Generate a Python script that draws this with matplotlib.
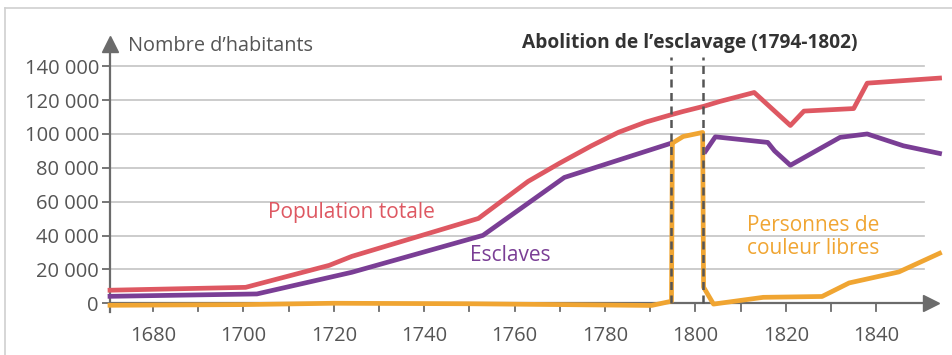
import numpy as np
import matplotlib
matplotlib.use("Agg")
import matplotlib.pyplot as plt
from matplotlib.lines import Line2D

# --- data -------------------------------------------------------------
years_total = [1670.5, 1700.5, 1719, 1724, 1741, 1752, 1763, 1770, 1777, 1783,
               1789, 1794.7, 1797.3, 1801.8, 1805.4, 1813, 1821, 1824, 1835,
               1838, 1854]
total = [7700, 9400, 22400, 27700, 41300, 50100, 72000, 82800, 93000, 101000,
         107000, 111400, 113300, 116300, 119200, 124500, 105000, 113500,
         115000, 130000, 133000]

years_slaves = [1670.5, 1703, 1724, 1753, 1771, 1794.7, 1798, 1802.2, 1804.4,
                1816, 1817.5, 1821, 1832, 1838, 1846, 1854]
slaves = [4100, 5500, 18300, 40100, 74300, 94600, np.nan, 89700, 98300,
          95000, 90000, 81500, 98000, 100000, 93000, 88500]

years_free = [1670.5, 1700, 1720, 1750, 1790.3, 1794.7, 1794.9, 1797.3,
              1801.6, 1801.8, 1804, 1815, 1828, 1834, 1845, 1854]
free = [-1200, -800, 0, -300, -1300, 1200, 94600, 98500,
        100900, 9500, -500, 3500, 4000, 12000, 18500, 29500]

abolition = [1794.7, 1801.7]

y_ticks = [0, 20000, 40000, 60000, 80000, 100000, 120000, 140000]
x_ticks = list(range(1680, 1841, 10))
x_labels = [str(y) if y % 20 == 0 else "" for y in x_ticks]

# --- style ------------------------------------------------------------
RED = "#de5862"
PURPLE = "#7a3e95"
ORANGE = "#f0a532"
GRID = "#c4c4c4"
AXIS = "#6b6b6b"
TEXT = "#555555"
DARK = "#333333"
FONT = "Open Sans"

plt.rcParams["font.family"] = [FONT, "DejaVu Sans"]

W, H = 953, 355
fig = plt.figure(figsize=(W / 100, H / 100), dpi=100)

x0, x1 = 1670.5, 1854.1
y0, y1 = -8000, 150000
ax = fig.add_axes([110 / W, (H - 316.8) / H, (940 - 110) / W, (316.8 - 49.3) / H])
ax.set_xlim(x0, x1)
ax.set_ylim(y0, y1)

for s in ax.spines.values():
    s.set_visible(False)

# horizontal grid
for v in y_ticks[1:]:
    ax.plot([x0, 1850.6], [v, v], color=GRID, lw=1.2, zorder=1)

# axes lines with arrows
ax.plot([x0, 1851], [0, 0], color=AXIS, lw=1.6, zorder=2, solid_capstyle="butt")
ax.plot([1852.2], [0], marker=">", ms=11, color=AXIS, clip_on=False, zorder=2)
ax.plot([x0, x0], [-5000, 150000], color=AXIS, lw=1.6, zorder=2, clip_on=False)
ax.plot([x0], [153300], marker="^", ms=11, color=AXIS, clip_on=False, zorder=2)

# ticks
ax.set_yticks(y_ticks)
ax.set_yticklabels([f"{v:,}".replace(",", " ") for v in y_ticks])
ax.set_xticks(x_ticks)
ax.set_xticklabels(x_labels)
ax.tick_params(axis="y", length=6, width=1.3, color=AXIS, pad=2,
               labelsize=14.5, labelcolor=TEXT)
ax.tick_params(axis="x", length=0, labelsize=14.5, labelcolor=TEXT, pad=6.5)
for t in x_ticks:
    ax.plot([t, t], [0, -4500], color=AXIS, lw=1.3, zorder=2, clip_on=False)

# series
ax.plot(years_total, total, color=RED, lw=3.4, zorder=4, solid_joinstyle="round",
        clip_on=False)
ax.plot(years_slaves, slaves, color=PURPLE, lw=3.4, zorder=4,
        solid_joinstyle="round", clip_on=False)
ax.plot(years_free, free, color=ORANGE, lw=3.4, zorder=5, solid_joinstyle="round",
        clip_on=False)

# abolition period
for yr in abolition:
    ax.plot([yr, yr], [0, 145500], color="#555555", lw=1.8,
            linestyle=(0, (3.2, 2.2)), zorder=6)

# texts
ax.text(1674.5, 149100, "Nombre d\u2019habitants", fontsize=14.3, color=TEXT,
        ha="left", va="baseline")
ax.text(1798.8, 151000, "Abolition de l\u2019esclavage (1794-1802)", fontsize=13.8,
        fontweight="bold", color=DARK, ha="center", va="baseline")
ax.text(1705.4, 50300, "Population totale", fontsize=15, color=RED,
        ha="left", va="baseline")
ax.text(1750.1, 25100, "Esclaves", fontsize=15, color=PURPLE,
        ha="left", va="baseline")
ax.text(1811.4, 42400, "Personnes de", fontsize=15, color=ORANGE,
        ha="left", va="baseline")
ax.text(1811.4, 29000, "couleur libres", fontsize=15, color=ORANGE,
        ha="left", va="baseline")

# light frame on the left and top
fig.add_artist(Line2D([5 / W, 5 / W], [0, 1 - 8 / H], color="#d0d0d0", lw=1.2))
fig.add_artist(Line2D([5 / W, 1], [1 - 8 / H, 1 - 8 / H], color="#d0d0d0", lw=1.2))

fig.savefig("out.png", dpi=100)
